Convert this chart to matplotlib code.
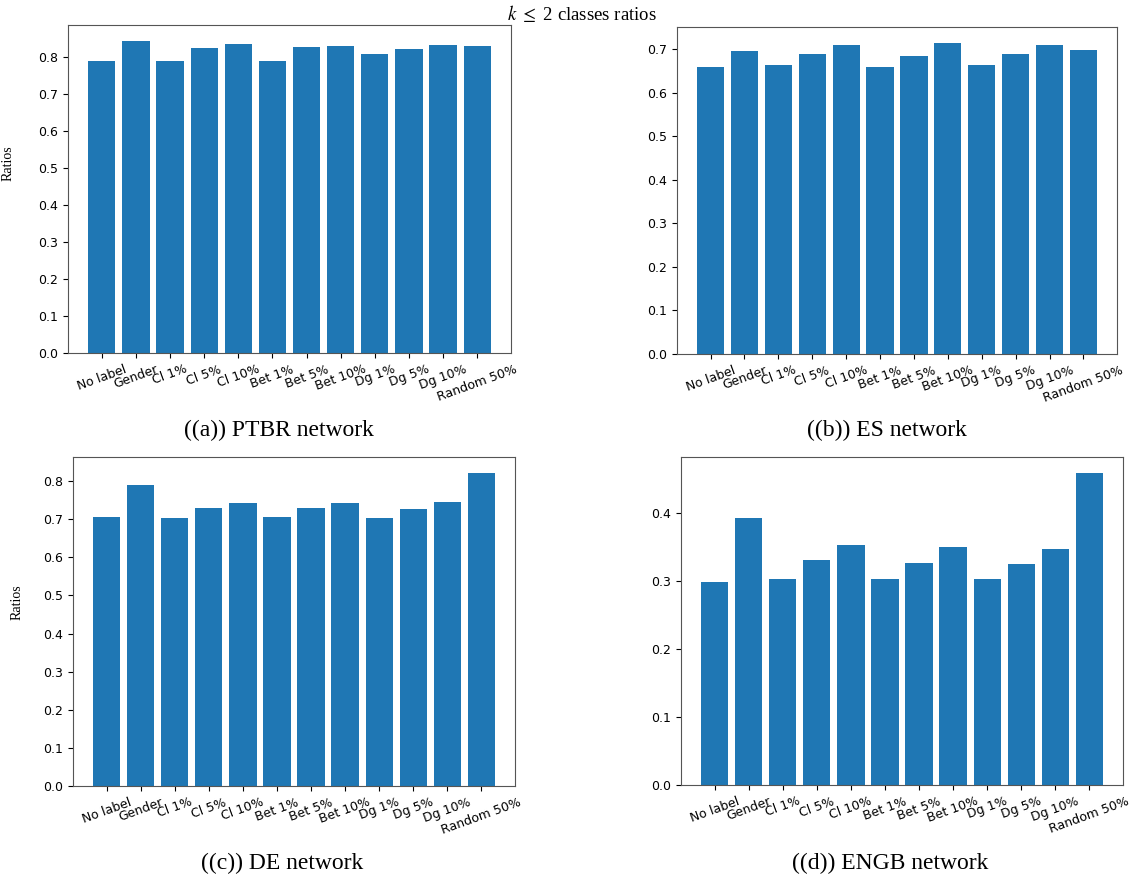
import matplotlib
matplotlib.use("Agg")
import matplotlib.pyplot as plt

categories = ["No label", "Gender", "Cl 1%", "Cl 5%", "Cl 10%", "Bet 1%",
              "Bet 5%", "Bet 10%", "Dg 1%", "Dg 5%", "Dg 10%", "Random 50%"]

ptbr = [0.788, 0.844, 0.788, 0.824, 0.834, 0.788, 0.827, 0.830, 0.808, 0.822, 0.832, 0.830]
es = [0.659, 0.695, 0.663, 0.689, 0.710, 0.660, 0.685, 0.715, 0.663, 0.689, 0.710, 0.699]
de = [0.705, 0.790, 0.702, 0.728, 0.742, 0.705, 0.728, 0.742, 0.702, 0.726, 0.744, 0.822]
engb = [0.299, 0.393, 0.302, 0.330, 0.352, 0.302, 0.326, 0.350, 0.302, 0.325, 0.347, 0.459]

captions = ["((a)) PTBR network", "((b)) ES network", "((c)) DE network", "((d)) ENGB network"]
title = r"$k$ $\leq$ 2 classes ratios"

plt.rcParams["mathtext.fontset"] = "stix"
W, H = 1132, 876
fig = plt.figure(figsize=(W / 100, H / 100), dpi=100)

# axes boxes in pixels: left, top, right, bottom
boxes = [(68, 25, 511, 353), (677, 27, 1117, 354), (73, 457, 515, 786), (681, 457, 1123, 785)]
caption_pos = [(279, 430), (887, 430), (282, 863), (890, 863)]
ylabel_pos = {0: (-0.121, 0.579), 2: (-0.111, 0.559)}
data = [ptbr, es, de, engb]
serif = ["Liberation Serif", "DejaVu Serif"]

for i, (vals, (l, t, r, b)) in enumerate(zip(data, boxes)):
    ax = fig.add_axes([l / W, 1 - b / H, (r - l) / W, (b - t) / H])
    ax.bar(categories, vals, color="#1f77b4")
    ax.tick_params(axis="both", labelsize=9)
    for sp in ax.spines.values():
        sp.set_color("#555555")
    for lab in ax.get_xticklabels():
        lab.set_rotation(20)
        lab.set_ha("center")
    if i in ylabel_pos:
        ax.set_ylabel("Ratios", family=serif, fontsize=10)
        ax.yaxis.set_label_coords(*ylabel_pos[i])
    cx, cy = caption_pos[i]
    fig.text(cx / W, 1 - cy / H, captions[i], ha="center", va="center",
             family=serif, fontsize=17)

fig.text(582 / W, 1 - 13 / H, title, ha="center", va="center", family=serif, fontsize=13.5)

fig.savefig("out.png", dpi=100)
